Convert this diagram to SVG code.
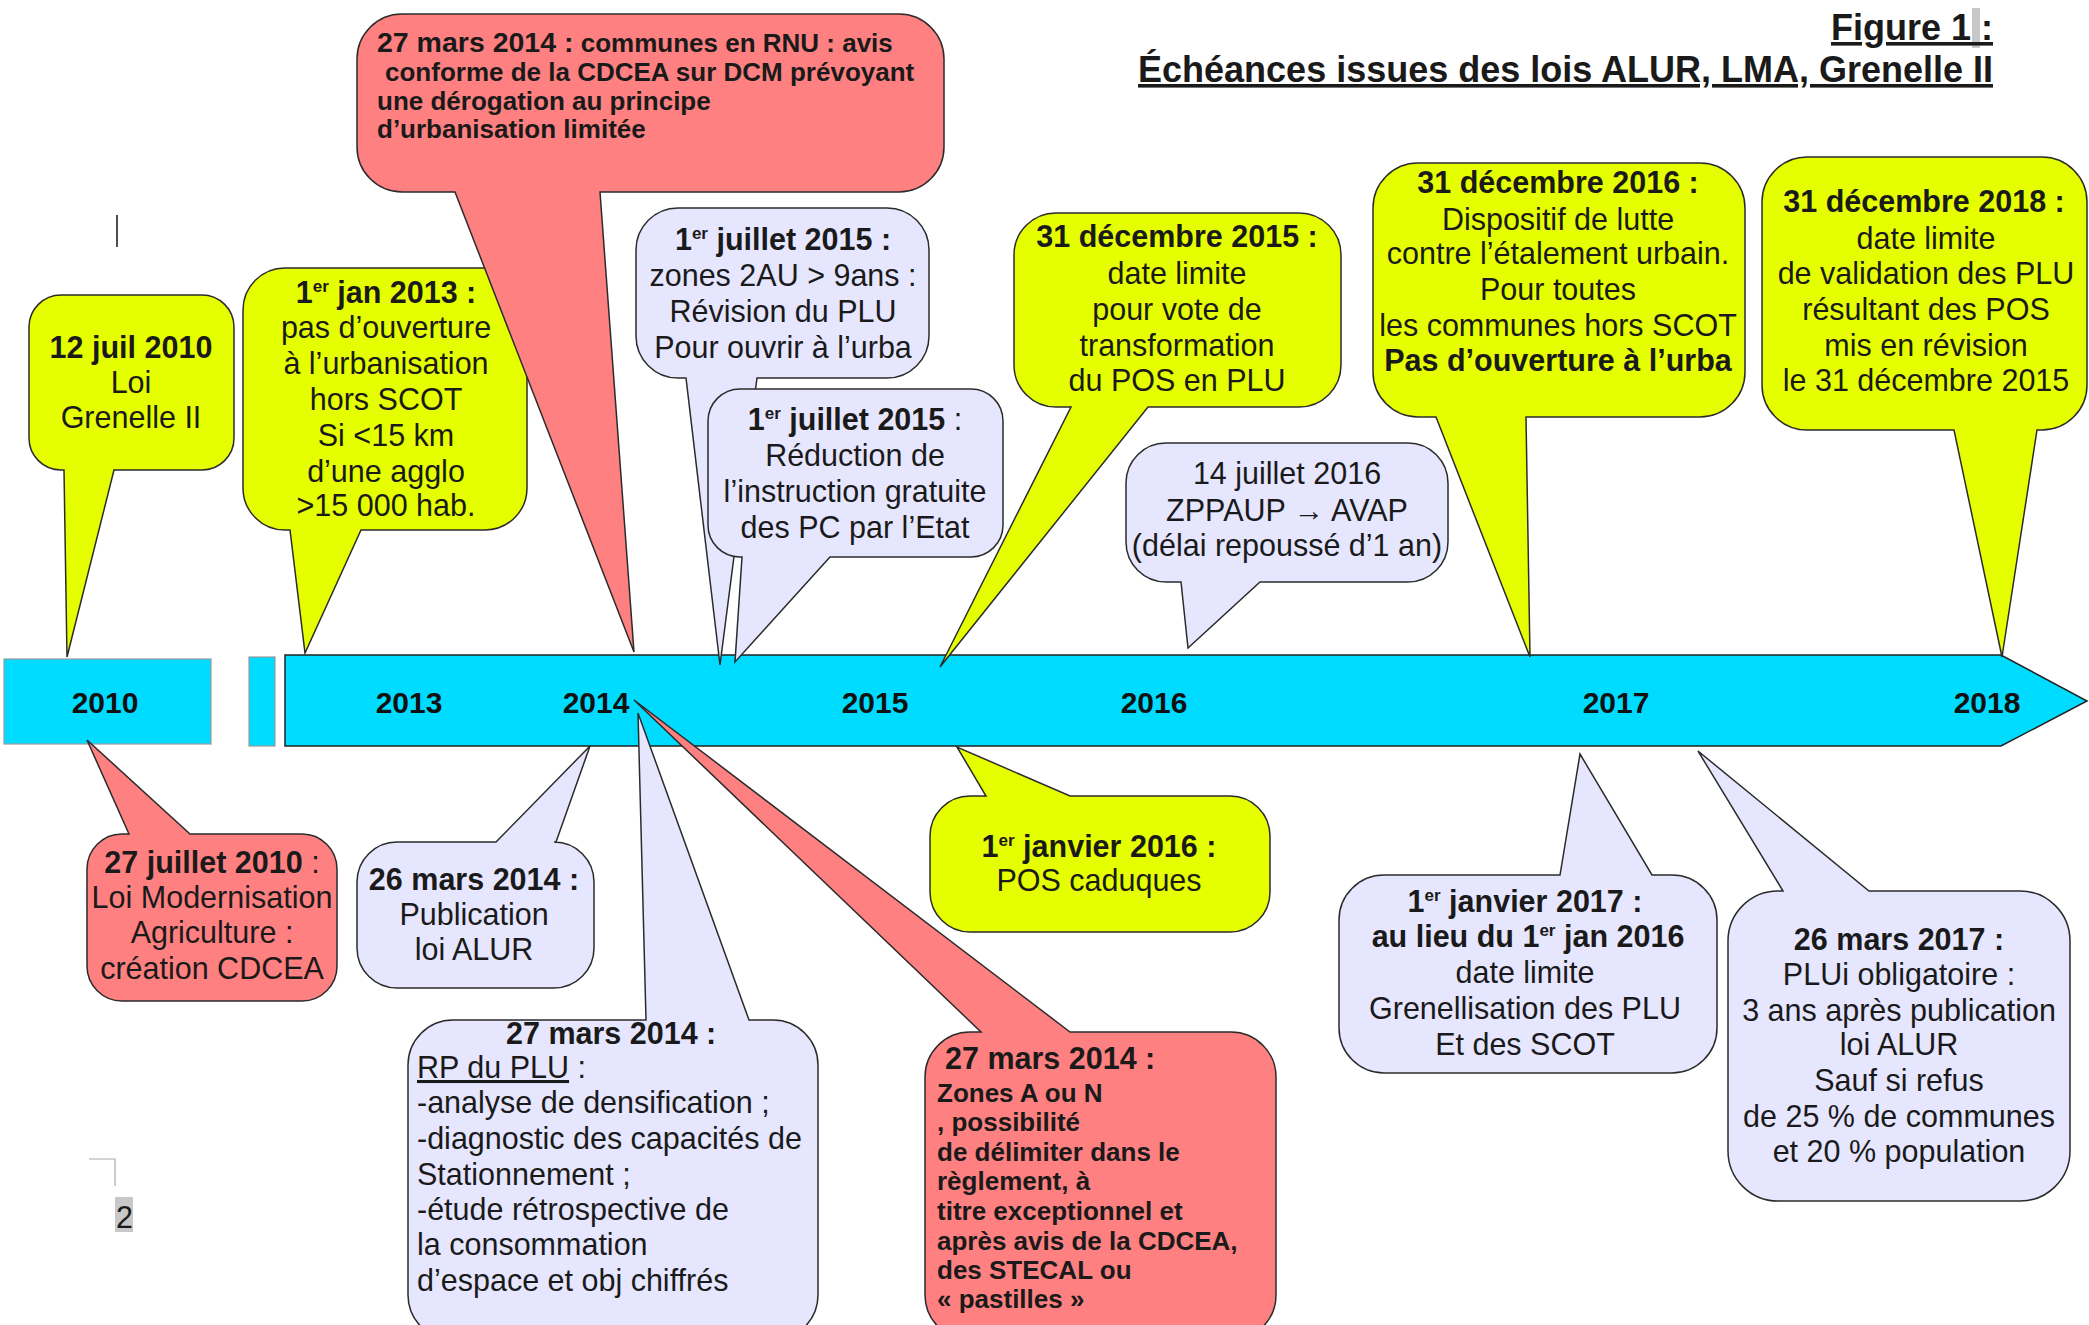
<svg xmlns="http://www.w3.org/2000/svg" width="2089" height="1325" viewBox="0 0 2089 1325">
<style>
text { font-family: "Liberation Sans", Arial, sans-serif; font-size: 30.5px; fill: #1a1a1a; }
.c { text-anchor: middle; }
.b { font-weight: bold; }
.sup { font-size: 17px; }
.r26 { font-size: 26px; font-weight: bold; }
.yr { font-size: 30px; font-weight: bold; text-anchor: middle; fill: #111; }
.ttl { font-size: 36px; font-weight: bold; text-anchor: end; text-decoration: underline; }
.co { stroke: #2b2b2b; stroke-width: 1.5; stroke-linejoin: miter; }
.yel { fill: #E6FF00; }
.red { fill: #FF8080; }
.lav { fill: #E6E6FF; }
</style>
<rect width="2089" height="1325" fill="#fff"/>

<g id="page-marks">
  <rect x="1972" y="8" width="8" height="40" fill="#c8c8c8"/>
  <line x1="117" y1="215" x2="117" y2="247" stroke="#111" stroke-width="1.5"/>
  <polyline points="89,1159 115,1159 115,1186" fill="none" stroke="#aaa" stroke-width="1.2"/>
  <rect x="115" y="1197" width="18" height="35" fill="#c8c8c8"/>
  <text x="116" y="1228" fill="#333">2</text>
</g>

<g id="title">
  <text class="ttl" x="1993" y="40">Figure 1 :</text>
  <text class="ttl" x="1993" y="82">Échéances issues des lois ALUR, LMA, Grenelle II</text>
</g>

<g id="timeline">
  <rect x="4" y="659" width="207" height="85" fill="#00DCFF" stroke="#999" stroke-width="1.2"/>
  <rect x="249" y="657" width="26" height="89" fill="#00DCFF" stroke="#999" stroke-width="1.2"/>
  <path d="M285,655 H2001 L2087,701 L2001,746 H285 Z" fill="#00DCFF" stroke="#222" stroke-width="1.5"/>
  <text class="yr" x="105" y="713">2010</text>
  <text class="yr" x="409" y="713">2013</text>
  <text class="yr" x="596" y="713">2014</text>
  <text class="yr" x="875" y="713">2015</text>
  <text class="yr" x="1154" y="713">2016</text>
  <text class="yr" x="1616" y="713">2017</text>
  <text class="yr" x="1987" y="713">2018</text>
</g>

<g id="connectors"></g>

<g id="n-2010-juil">
  <path class="co yel" d="M61,295 H202 A32,32 0 0 1 234,327 V438 A32,32 0 0 1 202,470 H114 L67,657 L64,470 H61 A32,32 0 0 1 29,438 V327 A32,32 0 0 1 61,295 Z"/>
  <text class="c b" x="131" y="358">12 juil 2010</text>
  <text class="c" x="131" y="393">Loi</text>
  <text class="c" x="131" y="428">Grenelle II</text>
</g>

<g id="n-2013-jan">
  <path class="co yel" d="M285,268 H485 A42,42 0 0 1 527,310 V488 A42,42 0 0 1 485,530 H361 L305,653 L290,530 H285 A42,42 0 0 1 243,488 V310 A42,42 0 0 1 285,268 Z"/>
  <text class="c b" x="386" y="303">1<tspan class="sup" dy="-11">er</tspan><tspan dy="11"> jan 2013 :</tspan></text>
  <text class="c" x="386" y="338">pas d’ouverture</text>
  <text class="c" x="386" y="374">à l’urbanisation</text>
  <text class="c" x="386" y="410">hors SCOT</text>
  <text class="c" x="386" y="446">Si &lt;15 km</text>
  <text class="c" x="386" y="482">d’une agglo</text>
  <text class="c" x="386" y="516">&gt;15 000 hab.</text>
</g>

<g id="n-2014-rnu">
  <path class="co red" d="M402,14 H899 A45,45 0 0 1 944,59 V147 A45,45 0 0 1 899,192 H600 L634,652 L455,192 H402 A45,45 0 0 1 357,147 V59 A45,45 0 0 1 402,14 Z"/>
  <text class="r26" x="377" y="52"><tspan font-size="28.5">27 mars 2014 :</tspan> communes en RNU : avis</text>
  <text class="r26" x="385" y="81">conforme de la CDCEA sur DCM prévoyant</text>
  <text class="r26" x="377" y="110">une dérogation au principe</text>
  <text class="r26" x="377" y="138">d’urbanisation limitée</text>
</g>

<g id="n-2015-juil-a">
  <path class="co lav" d="M678,208 H887 A42,42 0 0 1 929,250 V336 A42,42 0 0 1 887,378 H757 L720,665 L686,378 H678 A42,42 0 0 1 636,336 V250 A42,42 0 0 1 678,208 Z"/>
  <text class="c b" x="783" y="250">1<tspan class="sup" dy="-11">er</tspan><tspan dy="11"> juillet 2015 :</tspan></text>
  <text class="c" x="783" y="286">zones 2AU &gt; 9ans :</text>
  <text class="c" x="783" y="322">Révision du PLU</text>
  <text class="c" x="783" y="358">Pour ouvrir à l’urba</text>
</g>

<g id="n-2015-juil-b">
  <path class="co lav" d="M740,389 H971 A32,32 0 0 1 1003,421 V525 A32,32 0 0 1 971,557 H830 L735,662 L742,557 H740 A32,32 0 0 1 708,525 V421 A32,32 0 0 1 740,389 Z"/>
  <text class="c" x="855" y="430"><tspan class="b">1</tspan><tspan class="sup b" dy="-11">er</tspan><tspan class="b" dy="11"> juillet 2015</tspan> :</text>
  <text class="c" x="855" y="466">Réduction de</text>
  <text class="c" x="855" y="502">l’instruction gratuite</text>
  <text class="c" x="855" y="538">des PC par l’Etat</text>
</g>

<g id="n-2015-dec">
  <path class="co yel" d="M1056,213 H1299 A42,42 0 0 1 1341,255 V365 A42,42 0 0 1 1299,407 H1148 L940,667 L1071,407 H1056 A42,42 0 0 1 1014,365 V255 A42,42 0 0 1 1056,213 Z"/>
  <text class="c b" x="1177" y="247">31 décembre 2015 :</text>
  <text class="c" x="1177" y="284">date limite</text>
  <text class="c" x="1177" y="320">pour vote de</text>
  <text class="c" x="1177" y="356">transformation</text>
  <text class="c" x="1177" y="391">du POS en PLU</text>
</g>

<g id="n-2016-juil">
  <path class="co lav" d="M1166,443 H1408 A40,40 0 0 1 1448,483 V542 A40,40 0 0 1 1408,582 H1260 L1188,648 L1181,582 H1166 A40,40 0 0 1 1126,542 V483 A40,40 0 0 1 1166,443 Z"/>
  <text class="c" x="1287" y="484">14 juillet 2016</text>
  <text class="c" x="1287" y="521" font-size="27" fill="#000">ZPPAUP → AVAP</text>
  <text class="c" x="1287" y="556">(délai repoussé d’1 an)</text>
</g>

<g id="n-2016-dec">
  <path class="co yel" d="M1418,163 H1700 A45,45 0 0 1 1745,208 V372 A45,45 0 0 1 1700,417 H1526 L1530,657 L1436,417 H1418 A45,45 0 0 1 1373,372 V208 A45,45 0 0 1 1418,163 Z"/>
  <text class="c b" x="1558" y="193">31 décembre 2016 :</text>
  <text class="c" x="1558" y="230">Dispositif de lutte</text>
  <text class="c" x="1558" y="264">contre l’étalement urbain.</text>
  <text class="c" x="1558" y="300">Pour toutes</text>
  <text class="c" x="1558" y="336">les communes hors SCOT</text>
  <text class="c b" x="1558" y="371">Pas d’ouverture à l’urba</text>
</g>

<g id="n-2018-dec">
  <path class="co yel" d="M1807,157 H2042 A45,45 0 0 1 2087,202 V385 A45,45 0 0 1 2042,430 H2037 L2002,657 L1954,430 H1807 A45,45 0 0 1 1762,385 V202 A45,45 0 0 1 1807,157 Z"/>
  <text class="c b" x="1924" y="212">31 décembre 2018 :</text>
  <text class="c" x="1926" y="249">date limite</text>
  <text class="c" x="1926" y="284">de validation des PLU</text>
  <text class="c" x="1926" y="320">résultant des POS</text>
  <text class="c" x="1926" y="356">mis en révision</text>
  <text class="c" x="1926" y="391">le 31 décembre 2015</text>
</g>

<g id="n-2014-rp">
  <path class="co lav" d="M453,1020 H646 L638,713 L749,1020 H773 A45,45 0 0 1 818,1065 V1295 A45,45 0 0 1 773,1340 H453 A45,45 0 0 1 408,1295 V1065 A45,45 0 0 1 453,1020 Z"/>
  <text class="b" x="506" y="1044">27 mars 2014 :</text>
  <text x="417" y="1078"><tspan text-decoration="underline">RP du PLU</tspan> :</text>
  <text x="417" y="1113">-analyse de densification ;</text>
  <text x="417" y="1149">-diagnostic des capacités de</text>
  <text x="417" y="1185">Stationnement ;</text>
  <text x="417" y="1220">-étude rétrospective de</text>
  <text x="417" y="1255">la consommation</text>
  <text x="417" y="1291">d’espace et obj chiffrés</text>
</g>

<g id="n-2014-stecal">
  <path class="co red" d="M970,1032 H981 L634,700 L1070,1032 H1231 A45,45 0 0 1 1276,1077 V1295 A45,45 0 0 1 1231,1340 H970 A45,45 0 0 1 925,1295 V1077 A45,45 0 0 1 970,1032 Z"/>
  <text class="b" x="945" y="1069">27 mars 2014 :</text>
  <text class="r26" x="937" y="1102">Zones A ou N</text>
  <text class="r26" x="937" y="1131">, possibilité</text>
  <text class="r26" x="937" y="1161">de délimiter dans le</text>
  <text class="r26" x="937" y="1190">règlement, à</text>
  <text class="r26" x="937" y="1220">titre exceptionnel et</text>
  <text class="r26" x="937" y="1250">après avis de la CDCEA,</text>
  <text class="r26" x="937" y="1279">des STECAL ou</text>
  <text class="r26" x="937" y="1308">« pastilles »</text>
</g>

<g id="n-2010-lma">
  <path class="co red" d="M122,834 H129 L87,740 L190,834 H302 A35,35 0 0 1 337,869 V966 A35,35 0 0 1 302,1001 H122 A35,35 0 0 1 87,966 V869 A35,35 0 0 1 122,834 Z"/>
  <text class="c" x="212" y="873"><tspan class="b">27 juillet 2010</tspan> :</text>
  <text class="c" x="212" y="908">Loi Modernisation</text>
  <text class="c" x="212" y="943">Agriculture :</text>
  <text class="c" x="212" y="979">création CDCEA</text>
</g>

<g id="n-2014-alur">
  <path class="co lav" d="M397,842 H496 L590,746 L556,842 H554 A40,40 0 0 1 594,882 V948 A40,40 0 0 1 554,988 H397 A40,40 0 0 1 357,948 V882 A40,40 0 0 1 397,842 Z"/>
  <text class="c b" x="474" y="890">26 mars 2014 :</text>
  <text class="c" x="474" y="925">Publication</text>
  <text class="c" x="474" y="960">loi ALUR</text>
</g>

<g id="n-2016-jan">
  <path class="co yel" d="M970,796 H986 L957,747 L1070,796 H1230 A40,40 0 0 1 1270,836 V892 A40,40 0 0 1 1230,932 H970 A40,40 0 0 1 930,892 V836 A40,40 0 0 1 970,796 Z"/>
  <text class="c b" x="1099" y="857">1<tspan class="sup" dy="-11">er</tspan><tspan dy="11"> janvier 2016 :</tspan></text>
  <text class="c" x="1099" y="891">POS caduques</text>
</g>

<g id="n-2017-jan">
  <path class="co lav" d="M1384,875 H1560 L1580,754 L1652,875 H1672 A45,45 0 0 1 1717,920 V1028 A45,45 0 0 1 1672,1073 H1384 A45,45 0 0 1 1339,1028 V920 A45,45 0 0 1 1384,875 Z"/>
  <text class="c b" x="1525" y="912">1<tspan class="sup" dy="-11">er</tspan><tspan dy="11"> janvier 2017 :</tspan></text>
  <text class="c b" x="1528" y="947">au lieu du 1<tspan class="sup" dy="-11">er</tspan><tspan dy="11"> jan 2016</tspan></text>
  <text class="c" x="1525" y="983">date limite</text>
  <text class="c" x="1525" y="1019">Grenellisation des PLU</text>
  <text class="c" x="1525" y="1055">Et des SCOT</text>
</g>

<g id="n-2017-mars">
  <path class="co lav" d="M1778,891 H1783 L1698,751 L1869,891 H2020 A50,50 0 0 1 2070,941 V1151 A50,50 0 0 1 2020,1201 H1778 A50,50 0 0 1 1728,1151 V941 A50,50 0 0 1 1778,891 Z"/>
  <text class="c b" x="1899" y="950">26 mars 2017 :</text>
  <text class="c" x="1899" y="985">PLUi obligatoire :</text>
  <text class="c" x="1899" y="1021">3 ans après publication</text>
  <text class="c" x="1899" y="1055">loi ALUR</text>
  <text class="c" x="1899" y="1091">Sauf si refus</text>
  <text class="c" x="1899" y="1127">de 25 % de communes</text>
  <text class="c" x="1899" y="1162">et 20 % population</text>
</g>
</svg>
